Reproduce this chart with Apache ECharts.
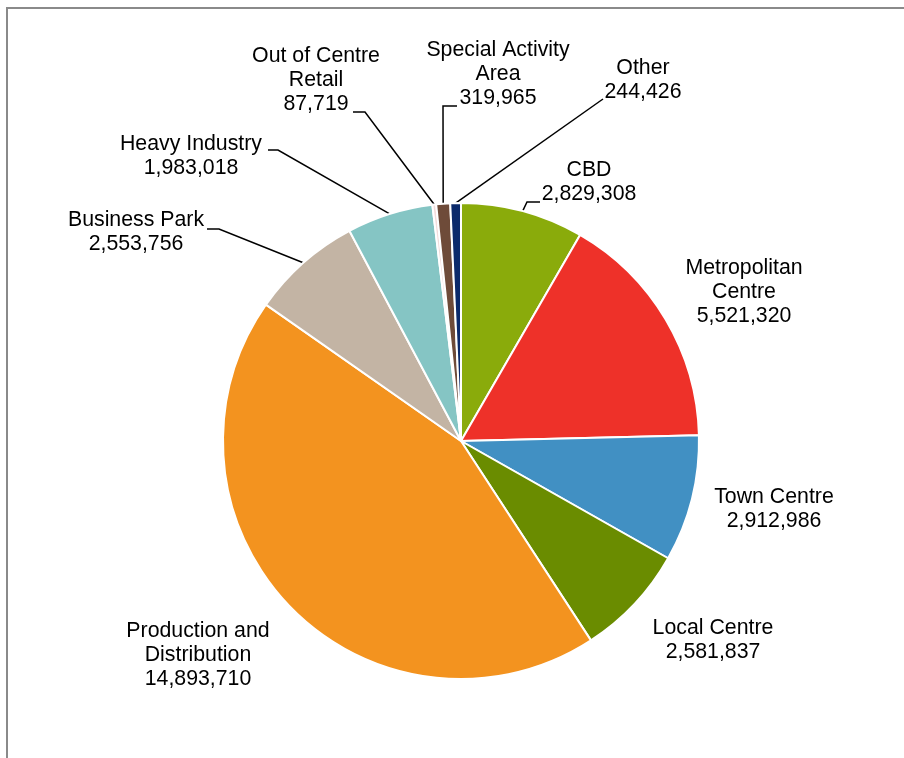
<!DOCTYPE html>
<html>
<head>
<meta charset="utf-8">
<script src="https://cdn.jsdelivr.net/npm/echarts@6/dist/echarts.min.js"></script>
<style>
  html, body { margin: 0; padding: 0; background: #fff; }
  #pie { width: 904px; height: 758px; }
</style>
</head>
<body>
<div id="pie"></div>
<script>
// slices, clockwise from 12 o'clock
var categories = ['CBD', 'Metropolitan\nCentre', 'Town Centre', 'Local Centre',
  'Production and\nDistribution', 'Business Park', 'Heavy Industry',
  'Out of Centre\nRetail', 'Special Activity\nArea', 'Other'];
var floorSpace = [2829308, 5521320, 2912986, 2581837, 14893710, 2553756, 1983018, 87719, 319965, 244426];
var sliceColors = ['#8aab0b', '#ee3129', '#4190c3', '#6a8c00', '#f3931f', '#c3b4a4', '#85c5c4', '#f3dcdb', '#6e4b39', '#0b2a6b'];

// where each label block sits (centre of the text)
var labelSpots = [[589, 182], [744, 292], [774, 509], [713, 640], [198, 655],
  [136, 232], [191, 156], [316, 80], [498, 74], [643, 80]];
// leader line: [elbow dx, elbow dy, end dx, end dy] relative to the label spot, null = no leader
var leaders = [
  [-62, 20, -49, 20],
  null, null, null, null,
  [83, -3, 71, -3],
  [87, -6, 77, -6],
  [49, 32, 37, 32],
  [-55, 32, -41, 32],
  [-40, 19, -40, 19]
];

var chart = echarts.init(document.getElementById('pie'), null, { renderer: 'canvas' });

var pieData = [];
for (var i = 0; i < categories.length; i++) {
  pieData.push({
    name: categories[i],
    value: floorSpace[i],
    itemStyle: { color: sliceColors[i] },
    labelLine: { show: leaders[i] != null }
  });
}

var option = {
  animation: false,
  graphic: [{
    type: 'rect',
    shape: { x: 7, y: 8, width: 1000, height: 1000 },
    style: { fill: 'none', stroke: '#8a8a8a', lineWidth: 2 },
    silent: true
  }],
  series: [{
    type: 'pie',
    center: [461, 441],
    radius: 238,
    startAngle: 90,
    clockwise: true,
    avoidLabelOverlap: false,
    itemStyle: { borderColor: '#fff', borderWidth: 2 },
    emphasis: { disabled: true },
    label: {
      show: true,
      position: 'outside',
      fontFamily: 'Liberation Sans, Arial, sans-serif',
      fontSize: 21.3,
      lineHeight: 24,
      color: '#000',
      align: 'center',
      formatter: function (p) {
        return p.name + '\n' + p.value.toLocaleString('en-US');
      }
    },
    labelLine: {
      length: 10,
      length2: 14,
      lineStyle: { color: '#000', width: 1.5 }
    },
    labelLayout: function (p) {
      var s = labelSpots[p.dataIndex];
      var res = { x: s[0], y: s[1], align: 'center', verticalAlign: 'middle' };
      var ld = leaders[p.dataIndex];
      if (ld && p.labelLinePoints) {
        var start = p.labelLinePoints[0];
        res.labelLinePoints = [
          [start[0], start[1]],
          [s[0] + ld[0], s[1] + ld[1]],
          [s[0] + ld[2], s[1] + ld[3]]
        ];
      }
      return res;
    },
    data: pieData
  }]
};

chart.setOption(option);
</script>
</body>
</html>
